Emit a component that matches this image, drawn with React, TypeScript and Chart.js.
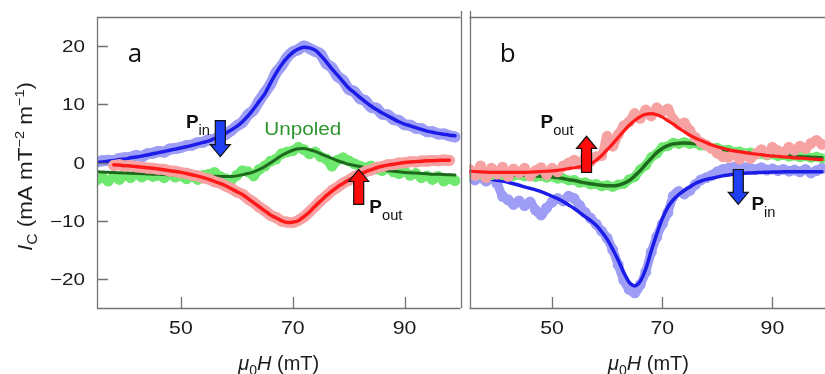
import React, { useEffect, useRef } from "react";
import { Chart, registerables } from "chart.js";
Chart.register(...registerables);

// ---------- data (field in mT, current in mA mT^-2 m^-1) ----------
const fieldAll = [35,36,37,38,39,40,41,42,43,44,45,46,47,48,49,50,51,52,53,54,55,56,57,58,59,60,61,62,63,64,65,66,67,68,69,70,71,72,73,74,75,76,77,78,79,80,81,82,83,84,85,86,87,88,89,90,91,92,93,94,95,96,97,98,99];
const fieldRedA = [38,39,40,41,42,43,44,45,46,47,48,49,50,51,52,53,54,55,56,57,58,59,60,61,62,63,64,65,66,67,68,69,70,71,72,73,74,75,76,77,78,79,80,81,82,83,84,85,86,87,88,89,90,91,92,93,94,95,96,97,98];
const fieldBlueB = [38,39,40,41,42,43,44,45,46,47,48,49,50,51,52,53,54,55,56,57,58,59,60,61,62,63,64,65,66,67,68,69,70,71,72,73,74,75,76,77,78,79,80,81,82,83,84,85,86,87,88,89,90,91,92,93,94,95,96,97,98,99];

// panel a
const blueFitA = [0,0.1,0.2,0.35,0.5,0.6,0.8,0.95,1.1,1.3,1.5,1.7,1.9,2.1,2.3,2.5,2.7,2.95,3.2,3.45,3.7,4.1,4.5,5.0,5.6,6.2,7.0,8.0,9.2,10.5,11.8,13.6,15.3,16.8,18.0,18.9,19.5,19.8,19.7,19.3,18.4,17.3,16.1,15.0,13.9,12.8,12.0,11.2,10.4,9.7,9.1,8.5,8.0,7.5,7.0,6.6,6.3,6.0,5.7,5.4,5.2,5.0,4.85,4.7,4.6];
const bluePtsA = [0.1,0.3,0.4,0.3,0.7,0.8,0.9,1.2,1.0,1.5,1.6,1.9,1.8,2.3,2.4,2.6,2.9,3.0,3.4,3.5,3.9,4.0,4.6,4.8,5.5,6.3,6.9,8.2,9.0,10.6,12.0,13.4,15.4,16.6,18.1,19.0,19.4,20.0,19.6,19.1,18.6,17.0,16.3,14.8,14.1,12.6,12.2,11.0,10.6,9.5,9.3,8.3,8.2,7.4,7.2,6.5,6.4,5.9,5.8,5.3,5.3,4.9,4.9,4.6,4.4];
const redFitA = [-0.4,-0.45,-0.55,-0.6,-0.7,-0.8,-0.9,-1.0,-1.1,-1.25,-1.4,-1.55,-1.7,-1.9,-2.1,-2.35,-2.6,-2.9,-3.25,-3.6,-4.0,-4.5,-5.0,-5.5,-6.2,-6.9,-7.6,-8.3,-9.0,-9.5,-10.0,-10.3,-10.25,-10.0,-9.3,-8.5,-7.5,-6.6,-5.7,-4.9,-4.2,-3.6,-3.0,-2.5,-2.0,-1.6,-1.25,-0.9,-0.65,-0.45,-0.3,-0.15,0,0.1,0.15,0.2,0.3,0.3,0.35,0.4,0.4];
const redPtsA = [-0.5,-0.4,-0.6,-0.55,-0.75,-0.8,-0.95,-1.0,-1.15,-1.2,-1.45,-1.5,-1.75,-1.85,-2.15,-2.3,-2.65,-2.85,-3.3,-3.55,-4.05,-4.45,-5.05,-5.45,-6.25,-6.85,-7.65,-8.25,-9.05,-9.45,-10.05,-10.25,-10.3,-9.95,-9.35,-8.45,-7.55,-6.55,-5.75,-4.85,-4.25,-3.55,-3.05,-2.45,-2.05,-1.55,-1.3,-0.85,-0.7,-0.4,-0.35,-0.1,-0.05,0.15,0.1,0.25,0.25,0.35,0.3,0.45,0.35];
const greenFitA = [-1.6,-1.64,-1.68,-1.72,-1.76,-1.8,-1.84,-1.88,-1.92,-1.96,-2.0,-2.04,-2.08,-2.12,-2.16,-2.2,-2.23,-2.26,-2.29,-2.32,-2.35,-2.37,-2.39,-2.4,-2.4,-2.3,-2.1,-1.9,-1.6,-1.2,-0.7,-0.1,0.55,1.2,1.7,2.1,2.35,2.4,2.2,1.9,1.5,1.1,0.7,0.3,0.0,-0.3,-0.5,-0.7,-0.9,-1.05,-1.2,-1.3,-1.4,-1.5,-1.6,-1.7,-1.76,-1.82,-1.88,-1.94,-2.0,-2.04,-2.08,-2.12,-2.16];
const greenPtsA = [-3.0,-2.6,-3.2,-2.4,-2.9,-2.2,-2.6,-2.0,-2.5,-2.1,-2.4,-2.2,-2.6,-2.1,-2.5,-2.3,-2.8,-2.4,-2.9,-2.2,-2.0,-1.7,-2.4,-2.8,-3.0,-2.2,-1.4,-1.6,-2.3,-1.2,-0.6,0.2,0.6,1.5,1.8,2.0,2.6,2.2,1.5,1.8,1.0,0.6,-0.6,0.4,0.8,0.3,-0.2,-0.6,-0.9,-0.6,-1.1,-1.4,-1.0,-1.6,-1.9,-1.5,-2.2,-1.9,-2.6,-2.3,-2.9,-2.4,-3.2,-2.8,-3.1];

// panel b
const redFitB = [-1.5,-1.55,-1.6,-1.65,-1.7,-1.7,-1.7,-1.7,-1.7,-1.7,-1.7,-1.65,-1.6,-1.55,-1.5,-1.45,-1.35,-1.2,-1.05,-0.9,-0.75,-0.5,-0.2,0.4,1.2,2.2,3.2,4.3,5.4,6.4,7.2,7.9,8.3,8.4,8.2,7.8,7.2,6.6,5.9,5.3,4.7,4.2,3.8,3.4,3.0,2.7,2.45,2.2,2.0,1.85,1.7,1.55,1.45,1.35,1.2,1.1,1.05,0.95,0.9,0.8,0.75,0.7,0.6,0.55,0.5];
const redPtsB = [-1.2,-2.2,-0.6,-2.6,-1.0,-2.0,-0.8,-2.4,-1.1,-1.8,-1.0,-2.3,-1.4,-0.9,-2.1,-1.0,-1.6,-0.6,-0.1,0.4,-0.3,0.8,0.2,1.0,1.2,4.5,2.8,4.8,6.3,7.0,8.4,7.6,9.0,8.0,9.4,8.8,9.2,7.4,6.6,6.8,5.5,4.3,3.5,3.0,2.4,1.6,1.0,0.9,1.4,0.6,1.2,0.7,1.5,2.2,1.4,2.6,2.0,1.7,2.6,2.1,2.8,2.4,3.3,3.8,3.1];
const greenFitB = [-1.8,-1.85,-1.9,-1.95,-2.0,-2.0,-2.05,-2.1,-2.15,-2.2,-2.2,-2.25,-2.3,-2.35,-2.4,-2.5,-2.6,-2.75,-2.95,-3.1,-3.3,-3.5,-3.65,-3.8,-3.9,-4.0,-4.0,-3.9,-3.6,-3.1,-2.3,-1.4,-0.3,0.7,1.7,2.4,2.9,3.2,3.3,3.35,3.3,3.2,3.0,2.8,2.6,2.4,2.25,2.1,1.95,1.8,1.7,1.6,1.5,1.4,1.35,1.3,1.25,1.2,1.15,1.1,1.0,0.95,0.9,0.85,0.8];
const greenPtsB = [-1.9,-1.7,-2.1,-1.8,-2.2,-1.9,-2.2,-2.0,-2.3,-2.1,-2.4,-2.1,-2.5,-2.3,-2.6,-2.4,-2.8,-2.7,-3.1,-3.0,-3.5,-3.4,-3.8,-3.7,-4.1,-3.9,-4.2,-3.8,-3.7,-2.9,-2.5,-1.2,-0.5,0.9,1.5,2.6,2.8,3.4,3.2,3.5,3.2,3.3,2.9,2.9,2.5,2.5,2.1,2.2,1.8,1.9,1.6,1.7,1.4,1.5,1.2,1.4,1.1,1.3,1.0,1.2,0.9,1.1,0.8,1.0,0.7];
const blueFitB = [-2.8,-2.9,-3.05,-3.2,-3.4,-3.65,-3.9,-4.2,-4.45,-4.7,-5.0,-5.4,-5.8,-6.2,-6.7,-7.3,-7.9,-8.6,-9.3,-10.0,-10.8,-11.9,-13.2,-14.9,-16.8,-18.9,-20.6,-21.2,-20.4,-18.3,-15.2,-12.3,-9.7,-7.7,-6.4,-5.5,-4.8,-4.2,-3.6,-3.2,-2.9,-2.7,-2.5,-2.3,-2.15,-2.0,-1.9,-1.85,-1.8,-1.75,-1.7,-1.68,-1.65,-1.63,-1.6,-1.6,-1.6,-1.6,-1.6,-1.6,-1.6,-1.6];
const bluePtsB = [-2.4,-3.0,-2.6,-3.2,-2.8,-3.6,-5.8,-6.4,-7.2,-6.6,-7.4,-6.8,-8.2,-9.0,-7.8,-6.8,-6.2,-6.6,-5.8,-6.2,-7.4,-8.6,-9.6,-10.6,-11.8,-13.0,-15.0,-17.6,-20.2,-21.8,-22.4,-21.0,-18.8,-15.4,-12.8,-10.6,-8.6,-5.8,-5.0,-5.4,-4.8,-3.8,-3.0,-2.6,-2.2,-1.6,-1.2,-1.0,-0.8,-1.1,-0.9,-1.0,-1.2,-0.9,-1.3,-1.1,-1.4,-1.2,-1.5,-1.3,-1.6,-1.2,-1.8,-1.4,-1.0];

// axes
const xRange = [35, 100];
const yRange = [-25, 25];
const xTickValues = [50, 70, 90];
const yTickValues = [-20, -10, 0, 10, 20];

// ---------- styling ----------
const SANS = '"Liberation Sans", Arial, Helvetica, sans-serif';
const LABEL_FONT = '"Open Sans", "Noto Sans", sans-serif';
const AXIS_COLOR = "#737373";
const TEXT_COLOR = "#1c1c1c";
const C = {
  blueLine: "#1c1ce8",
  bluePts: "#9d9df5",
  redLine: "#ff1a1a",
  redPts: "#f7a2a2",
  greenLine: "#1d6a1d",
  greenPts: "#6fe86f",
  blueArrow: "#1f3ff2",
  redArrow: "#ff0a0a",
  unpoled: "#2f962f",
};

type Run = { t: string; size: number; dy?: number; italic?: boolean; bold?: boolean };

function fontOf(r: Run, family: string) {
  return `${r.italic ? "italic " : ""}${r.bold ? "bold " : ""}${r.size}px ${family}`;
}

function drawRuns(
  ctx: CanvasRenderingContext2D,
  runs: Run[],
  x: number,
  y: number,
  align: "left" | "center" | "right",
  sx: number,
  color: string,
  family: string = SANS
) {
  ctx.save();
  ctx.fillStyle = color;
  ctx.textBaseline = "alphabetic";
  ctx.textAlign = "left";
  let total = 0;
  for (const r of runs) {
    ctx.font = fontOf(r, family);
    total += ctx.measureText(r.t).width;
  }
  const w = total * sx;
  const x0 = align === "center" ? x - w / 2 : align === "right" ? x - w : x;
  ctx.translate(x0, y);
  ctx.scale(sx, 1);
  let cx = 0;
  for (const r of runs) {
    ctx.font = fontOf(r, family);
    ctx.fillText(r.t, cx, r.dy || 0);
    cx += ctx.measureText(r.t).width;
  }
  ctx.restore();
}

function drawArrow(ctx: CanvasRenderingContext2D, x: number, yTail: number, yTip: number, fill: string) {
  const dir = yTip > yTail ? 1 : -1;
  const shaftW = 5, headW = 10, headL = 12;
  const yb = yTip - dir * headL;
  ctx.save();
  ctx.beginPath();
  ctx.moveTo(x - shaftW, yTail);
  ctx.lineTo(x - shaftW, yb);
  ctx.lineTo(x - headW, yb);
  ctx.lineTo(x, yTip);
  ctx.lineTo(x + headW, yb);
  ctx.lineTo(x + shaftW, yb);
  ctx.lineTo(x + shaftW, yTail);
  ctx.closePath();
  ctx.fillStyle = fill;
  ctx.fill();
  ctx.lineWidth = 1.2;
  ctx.strokeStyle = "#111";
  ctx.stroke();
  ctx.restore();
}

const fmtTick = (v: number) => (v < 0 ? "\u2212" + Math.abs(v) : String(v));

type Annot = {
  letter: { x: number; y: number; t: string };
  arrows: { x: number; tail: number; tip: number; color: string }[];
  plabels: { x: number; y: number; sub: string }[];
  unpoled?: { x: number; y: number };
};

const annotA: Annot = {
  letter: { x: 40.5, y: 17.2, t: "a" },
  arrows: [
    { x: 57.05, tail: 7.2, tip: 1.0, color: C.blueArrow },
    { x: 81.8, tail: -7.2, tip: -1.2, color: C.redArrow },
  ],
  plabels: [
    { x: 50.9, y: 6.0, sub: "in" },
    { x: 83.7, y: -8.6, sub: "out" },
  ],
  unpoled: { x: 71.8, y: 4.65 },
};
const annotB: Annot = {
  letter: { x: 40.5, y: 17.2, t: "b" },
  arrows: [
    { x: 56.25, tail: -1.7, tip: 4.5, color: C.redArrow },
    { x: 83.8, tail: -1.2, tip: -7.2, color: C.blueArrow },
  ],
  plabels: [
    { x: 47.9, y: 6.0, sub: "out" },
    { x: 86.2, y: -8.1, sub: "in" },
  ],
};

function panelPlugin(panel: "a" | "b") {
  return {
    id: "panelDecor" + panel,
    afterDatasetsDraw(chart: any) {
      const ctx: CanvasRenderingContext2D = chart.ctx;
      const { left, right, top, bottom } = chart.chartArea;
      const xs = chart.scales.x;
      const ys = chart.scales.y;
      const W = chart.width;
      ctx.save();
      ctx.strokeStyle = AXIS_COLOR;
      ctx.lineWidth = 1.3;
      ctx.beginPath();
      ctx.moveTo(left, Math.round(top) + 0.5);
      ctx.lineTo(panel === "a" ? right : W, Math.round(top) + 0.5);
      ctx.moveTo(left, Math.round(bottom) + 0.5);
      ctx.lineTo(panel === "a" ? right : W, Math.round(bottom) + 0.5);
      if (panel === "a") {
        ctx.moveTo(Math.round(left) + 0.5, top);
        ctx.lineTo(Math.round(left) + 0.5, bottom);
        ctx.moveTo(Math.round(right) + 0.5, top - 6);
        ctx.lineTo(Math.round(right) + 0.5, bottom);
      } else {
        ctx.moveTo(Math.round(left) + 0.5, top - 6);
        ctx.lineTo(Math.round(left) + 0.5, bottom);
      }
      for (const v of xTickValues) {
        const px = Math.round(xs.getPixelForValue(v)) + 0.5;
        ctx.moveTo(px, bottom);
        ctx.lineTo(px, bottom - 11);
      }
      if (panel === "a") {
        for (const v of yTickValues) {
          const py = Math.round(ys.getPixelForValue(v)) + 0.5;
          ctx.moveTo(left, py);
          ctx.lineTo(left + 11, py);
        }
      }
      ctx.stroke();
      ctx.restore();

      for (const v of xTickValues) {
        const px = xs.getPixelForValue(v);
        drawRuns(ctx, [{ t: fmtTick(v), size: 19 }], px, bottom + 26, "center", 1.12, TEXT_COLOR);
      }
      if (panel === "a") {
        for (const v of yTickValues) {
          const py = ys.getPixelForValue(v);
          drawRuns(ctx, [{ t: fmtTick(v), size: 16.5 }], left - 12, py + 6, "right", 1.25, TEXT_COLOR);
        }
        ctx.save();
        ctx.translate(32, (top + bottom) / 2 + 4);
        ctx.rotate(-Math.PI / 2);
        drawRuns(
          ctx,
          [
            { t: "I", size: 20, italic: true },
            { t: "C", size: 14, dy: 5 },
            { t: " (mA mT", size: 20 },
            { t: "\u22122", size: 13, dy: -8 },
            { t: " m", size: 20 },
            { t: "\u22121", size: 13, dy: -8 },
            { t: ")", size: 20 },
          ],
          0,
          0,
          "center",
          1.12,
          TEXT_COLOR
        );
        ctx.restore();
      }
      drawRuns(
        ctx,
        [
          { t: "\u03bc", size: 20, italic: true },
          { t: "0", size: 14, dy: 5 },
          { t: "H", size: 20, italic: true },
          { t: " (mT)", size: 20 },
        ],
        (xs.getPixelForValue(xRange[0]) + xs.getPixelForValue(xRange[1])) / 2,
        370,
        "center",
        1.0,
        TEXT_COLOR
      );

      const an = panel === "a" ? annotA : annotB;
      drawRuns(ctx, [{ t: an.letter.t, size: 26 }], xs.getPixelForValue(an.letter.x), ys.getPixelForValue(an.letter.y), "left", 1.0, "#111", LABEL_FONT);
      for (const a of an.arrows) {
        drawArrow(ctx, xs.getPixelForValue(a.x), ys.getPixelForValue(a.tail), ys.getPixelForValue(a.tip), a.color);
      }
      for (const p of an.plabels) {
        drawRuns(
          ctx,
          [
            { t: "P", size: 18, bold: true },
            { t: p.sub, size: 14, dy: 7 },
          ],
          xs.getPixelForValue(p.x),
          ys.getPixelForValue(p.y),
          "left",
          1.05,
          "#111"
        );
      }
      if (an.unpoled) {
        drawRuns(ctx, [{ t: "Unpoled", size: 18 }], xs.getPixelForValue(an.unpoled.x), ys.getPixelForValue(an.unpoled.y), "center", 1.15, C.unpoled);
      }
    },
  };
}

function zip(xs: number[], ys: number[]) {
  return xs.map((x, i) => ({ x, y: ys[i] }));
}

// measured points: overlapping light markers joined by a thick light band
function ptsSet(xs: number[], ys: number[], color: string, order: number, r: number, band: number) {
  return {
    data: zip(xs, ys),
    showLine: true,
    borderWidth: band,
    borderCapStyle: "round",
    borderJoinStyle: "round",
    cubicInterpolationMode: "monotone",
    pointRadius: r,
    pointBorderWidth: 0,
    pointBackgroundColor: color,
    pointBorderColor: color,
    backgroundColor: color,
    borderColor: color,
    fill: false,
    order,
  };
}
function lineSet(xs: number[], ys: number[], color: string, order: number, w: number) {
  return {
    data: zip(xs, ys),
    borderColor: color,
    backgroundColor: color,
    borderWidth: w,
    borderCapStyle: "round",
    pointRadius: 0,
    cubicInterpolationMode: "monotone",
    fill: false,
    order,
  };
}

function makeChart(canvas: HTMLCanvasElement, panel: "a" | "b") {
  const datasets =
    panel === "a"
      ? [
          lineSet(fieldRedA, redFitA, C.redLine, 0, 3.5),
          ptsSet(fieldRedA, redPtsA, C.redPts, 1, 5.5, 11),
          lineSet(fieldAll, greenFitA, C.greenLine, 2, 3),
          ptsSet(fieldAll, greenPtsA, C.greenPts, 3, 5.5, 9),
          lineSet(fieldAll, blueFitA, C.blueLine, 4, 3.5),
          ptsSet(fieldAll, bluePtsA, C.bluePts, 5, 5.5, 11),
        ]
      : [
          lineSet(fieldAll, redFitB, C.redLine, 0, 3.2),
          ptsSet(fieldAll, redPtsB, C.redPts, 1, 5.5, 9),
          lineSet(fieldAll, greenFitB, C.greenLine, 2, 3.5),
          ptsSet(fieldAll, greenPtsB, C.greenPts, 3, 5, 9),
          lineSet(fieldBlueB, blueFitB, C.blueLine, 4, 3.5),
          ptsSet(fieldAll, bluePtsB, C.bluePts, 5, 5.5, 9),
        ];
  return new Chart(canvas, {
    type: "line",
    data: { datasets } as any,
    options: {
      animation: false,
      responsive: false,
      maintainAspectRatio: false,
      events: [],
      layout: {
        padding: panel === "a" ? { left: 97, right: 2, top: 17, bottom: 66 } : { left: 0, right: 2, top: 17, bottom: 66 },
      },
      scales: {
        x: { type: "linear", min: xRange[0], max: xRange[1], display: false },
        y: { type: "linear", min: yRange[0], max: yRange[1], display: false },
      },
      plugins: { legend: { display: false }, tooltip: { enabled: false } },
    } as any,
    plugins: [panelPlugin(panel) as any],
  });
}

export default function App() {
  const refA = useRef<HTMLCanvasElement>(null);
  const refB = useRef<HTMLCanvasElement>(null);
  useEffect(() => {
    const a = makeChart(refA.current!, "a");
    const b = makeChart(refB.current!, "b");
    return () => {
      a.destroy();
      b.destroy();
    };
  }, []);
  return (
    <div style={{ position: "absolute", left: 0, top: 0, width: 825, height: 374, overflow: "hidden", background: "#fff" }}>
      <canvas ref={refA} width={466} height={374} style={{ position: "absolute", left: 0, top: 0, width: 466, height: 374 }} />
      <canvas ref={refB} width={369} height={374} style={{ position: "absolute", left: 464, top: 0, width: 369, height: 374 }} />
    </div>
  );
}
